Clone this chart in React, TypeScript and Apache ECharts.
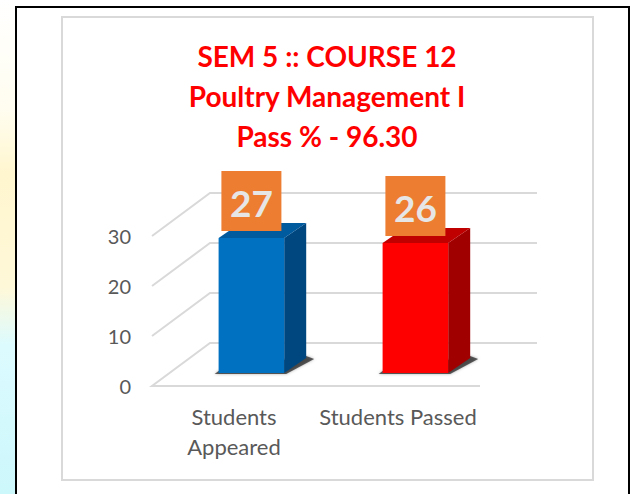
import React, { useEffect, useRef } from "react";
import * as echarts from "echarts";

const titleLines = ["SEM 5 :: COURSE 12", "Poultry Management I", "Pass % - 96.30"];
const categories = ["Students Appeared", "Students Passed"];
const values = [27, 26];
const frontColors = ["#0070C0", "#FF0000"];
const topColors = ["#005A9E", "#C00000"];
const sideColors = ["#00477F", "#A00000"];
const yTicks = [0, 10, 20, 30];

const DX = 58;
const DY = 43;
const FONT = "Lato, 'Noto Sans', sans-serif";

export default function App() {
  const ref = useRef<HTMLDivElement>(null);
  useEffect(() => {
    document.body.style.margin = "0";
    const chart = echarts.init(ref.current!, undefined, { renderer: "svg" });
    const option: any = {
      animation: false,
      backgroundColor: "#ffffff",
      title: {
        text: titleLines.join("\n"),
        left: 327,
        top: 36,
        textAlign: "center",
        padding: 0,
        textStyle: {
          color: "#FF0000",
          fontWeight: "bold",
          fontSize: 28,
          lineHeight: 40,
          fontFamily: FONT,
        },
      },
      graphic: [
        {
          type: "rect",
          z: -10,
          silent: true,
          shape: { x: 0, y: 0, width: 15, height: 494 },
          style: {
            fill: new echarts.graphic.LinearGradient(0, 0, 0, 1, [
              { offset: 0, color: "#ffffff" },
              { offset: 0.22, color: "#fffdf0" },
              { offset: 0.35, color: "#fff6cf" },
              { offset: 0.58, color: "#fff8d8" },
              { offset: 0.7, color: "#dcfbff" },
              { offset: 1, color: "#ccf7fb" },
            ]),
          },
        },
        {
          type: "rect",
          z: -9,
          silent: true,
          shape: { x: 16, y: 7, width: 613, height: 500 },
          style: { fill: "#ffffff", stroke: "#000000", lineWidth: 2 },
        },
        {
          type: "rect",
          z: -8,
          silent: true,
          shape: { x: 62, y: 17, width: 531, height: 463 },
          style: { fill: "none", stroke: "#D9D9D9", lineWidth: 2 },
        },
      ],
      grid: { left: 152, right: 151, top: 236, bottom: 108 },
      xAxis: {
        type: "category",
        data: categories,
        axisLine: { show: false },
        axisTick: { show: false },
        axisLabel: {
          interval: 0,
          margin: 15,
          color: "#595959",
          fontSize: 22,
          lineHeight: 30,
          fontFamily: FONT,
          formatter: (v: string) => (v === "Students Appeared" ? "Students\nAppeared" : v),
        },
      },
      yAxis: {
        type: "value",
        min: 0,
        max: 30,
        interval: 10,
        axisLine: { show: false },
        axisTick: { show: false },
        splitLine: { show: false },
        axisLabel: { margin: 21, color: "#595959", fontSize: 20, fontFamily: FONT },
      },
      series: [
        {
          type: "custom",
          silent: true,
          z: 1,
          data: yTicks.map((t) => [0, t]),
          encode: { x: 0, y: 1 },
          renderItem: (params: any, api: any) => {
            const v = api.value(1);
            const y = api.coord([0, v])[1];
            const cs = params.coordSys;
            const x0 = cs.x;
            const x1 = cs.x + cs.width;
            const pts =
              v === 0
                ? [[x1, y], [x0, y], [x0 + DX, y - DY], [x1 + DX - 1, y - DY]]
                : [[x0, y], [x0 + DX, y - DY], [x1 + DX - 1, y - DY]];
            return {
              type: "polyline",
              shape: { points: pts },
              style: { stroke: "#D9D9D9", lineWidth: 2, fill: "none" },
            };
          },
        },
        {
          type: "custom",
          z: 3,
          data: values.map((v, i) => [i, v]),
          encode: { x: 0, y: 1 },
          renderItem: (params: any, api: any) => {
            const i = api.value(0);
            const v = api.value(1);
            const [cx, yTop] = api.coord([i, v]);
            const yBase = api.coord([i, 0])[1];
            const band = api.size([1, 0])[0];
            const fw = band * 0.4;
            const ox = DX * 0.3;
            const oy = DY * 0.3;
            const l = cx - fw / 2 + ox;
            const r = cx + fw / 2 + ox;
            const t = yTop - oy;
            const b = yBase - oy;
            const sx = 22;
            const sy = 15;
            const idx = params.dataIndex;
            const boxW = 60;
            const boxH = 60;
            const bx = (l + r) / 2 - boxW / 2;
            const by = t - 7 - boxH;
            return {
              type: "group",
              children: [
                {
                  type: "polygon",
                  shape: {
                    points: [
                      [l - 4, b + 1],
                      [r + 2, b + 1],
                      [r + sx + 8, b - sy + 1],
                      [r + sx, b - sy - 2],
                      [l, b - 2],
                    ],
                  },
                  style: { fill: "rgba(0,0,0,0.6)", shadowBlur: 3, shadowColor: "rgba(0,0,0,0.5)" },
                },
                {
                  type: "polygon",
                  shape: { points: [[r, t], [r + sx, t - sy], [r + sx, b - sy], [r, b]] },
                  style: { fill: sideColors[idx] },
                },
                {
                  type: "polygon",
                  shape: { points: [[l, t], [l + sx, t - sy], [r + sx, t - sy], [r, t]] },
                  style: { fill: topColors[idx] },
                },
                {
                  type: "rect",
                  shape: { x: l, y: t, width: r - l, height: b - t },
                  style: { fill: frontColors[idx] },
                },
                {
                  type: "rect",
                  shape: { x: bx, y: by, width: boxW, height: boxH },
                  style: { fill: "#ED7D31" },
                },
                {
                  type: "text",
                  x: bx + boxW / 2,
                  y: by + boxH / 2 + 1,
                  style: {
                    text: String(v),
                    fill: "#E7E6E6",
                    font: `bold 37px ${FONT}`,
                    align: "center",
                    verticalAlign: "middle",
                  },
                },
              ],
            };
          },
        },
      ],
    };
    chart.setOption(option);
    return () => chart.dispose();
  }, []);
  return (
    <div
      ref={ref}
      style={{ position: "absolute", left: 0, top: 0, width: 631, height: 494 }}
    />
  );
}
